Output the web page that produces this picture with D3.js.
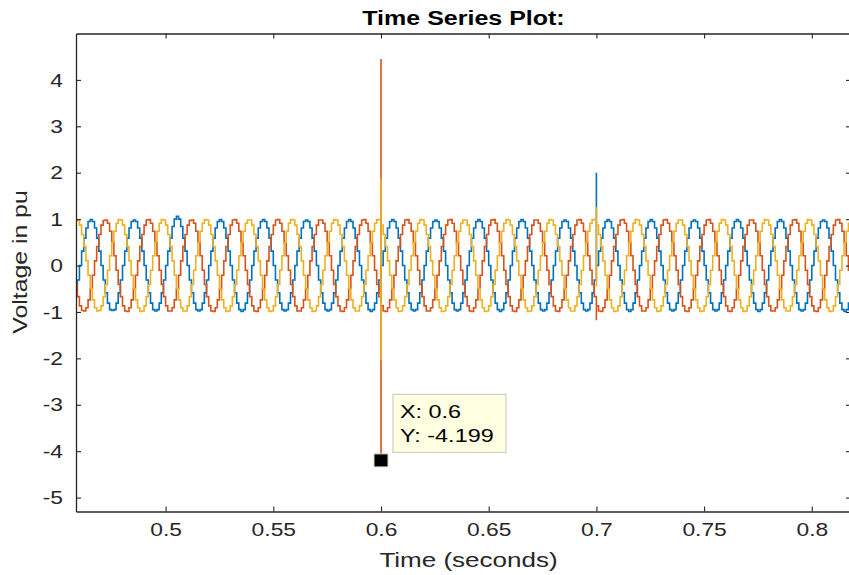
<!DOCTYPE html>
<html>
<head>
<meta charset="utf-8">
<script src="https://cdn.jsdelivr.net/npm/d3@7"></script>
<style>
  body { margin: 0; background: #fff; }
  text { font-family: "Liberation Sans", Arial, sans-serif; fill: #262626; }
</style>
</head>
<body>
<div id="chart"></div>
<script>
// sampling of the logged signals (1 ms steps from 0.458 s)
const sampleStart = 0.458, sampleStep = 0.001;

// phase A (blue), one line per 20 ms cycle
const phaseA = [
  -.59,-.31,0,.31,.59,.81,.95,.99,.95,.81,.59,.31,0,-.31,-.59,-.81,-.95,-.97,-.95,-.81,
  -.59,-.31,0,.31,.59,.81,.95,.98,.95,.81,.59,.31,0,-.31,-.59,-.81,-.95,-.98,-.95,-.81,
  -.59,-.31,0,.31,.59,.84,1.0,1.06,1.0,.84,.59,.31,0,-.31,-.59,-.81,-.95,-.98,-.95,-.81,
  -.59,-.31,0,.31,.59,.81,.95,.99,.95,.81,.59,.31,0,-.31,-.59,-.81,-.95,-.99,-.95,-.81,
  -.59,-.31,0,.31,.59,.81,.95,.99,.95,.81,.59,.31,0,-.31,-.59,-.81,-.95,-.98,-.95,-.81,
  -.59,-.31,0,.31,.59,.81,.95,.98,.95,.81,.59,.31,0,-.31,-.59,-.81,-.95,-.98,-.95,-.81,
  -.59,-.31,0,.31,.59,.81,.95,.99,.95,.81,.59,.31,0,-.31,-.59,-.81,-.95,-.99,-.95,-.81,
  -.59,-.31,0,.31,.59,.81,.95,.99,.95,.81,.59,.31,0,-.31,-.59,-.81,-.95,-.98,-.95,-.81,
  -.59,-.31,0,.31,.59,.81,.95,.98,.95,.81,.59,.31,0,-.31,-.59,-.81,-.95,-.98,-.95,-.81,
  -.59,-.31,0,.31,.59,.81,.95,.99,.95,.81,.59,.31,0,-.31,-.59,-.81,-.95,-.99,-.95,-.81,
  -.59,-.31,0,.31,.59,.81,.95,.99,.95,.81,.59,.31,0,-.31,-.59,-.81,-.95,-.98,-.95,-.81,
  -.59,-.31,0,.31,.59,.81,.95,.98,.95,.81,.59,.31,0,-.31,-.59,-.81,-.95,-.98,-.95,-.81,
  -.59,-.31,0,.31,.59,.81,.95,.99,.95,.81,.59,.31,0,-.31,-.59,-.81,-.95,-.99,-.95,-.81,
  -.59,-.31,0,.31,.59,.81,.95,.99,.95,.81,.59,.31,0,-.31,-.59,-.81,-.95,-.98,-.95,-.81,
  -.59,-.31,0,.31,.59,.81,.95,.98,.95,.81,.59,.31,0,-.31,-.59,-.81,-.95,-.98,-.95,-.81,
  -.59,-.31,0,.31,.59,.81,.95,.99,.95,.81,.59,.31,0,-.31,-.59,-.81,-.95,-.99,-.95,-.81,
  -.59,-.31,0,.31,.59,.81,.95,.99,.95,.81,.59,.31,0,-.31,-.59,-.81,-.95,-.98,-.95,-.81,
  -.59,-.31,0,.31,.59,.81,.95,.98,.95,.81,.59,.31,0,-.31,-.59,-.81,-.95,-.99,-.95,-.81,
  -.59
];

// phase B (red)
const phaseB = [
  -.41,-.67,-.87,-.97,-.98,-.91,-.74,-.5,-.21,.10,.41,.67,.87,.97,.98,.91,.74,.5,.21,-.10,
  -.41,-.67,-.87,-.98,-.99,-.91,-.74,-.5,-.21,.10,.41,.67,.87,.98,.99,.91,.74,.5,.21,-.10,
  -.41,-.67,-.87,-.98,-.98,-.91,-.74,-.5,-.21,.10,.41,.67,.87,.97,.98,.91,.74,.5,.21,-.10,
  -.41,-.67,-.87,-.98,-.99,-.91,-.74,-.5,-.21,.10,.41,.67,.87,.98,.99,.91,.74,.5,.21,-.10,
  -.41,-.67,-.87,-.98,-.99,-.91,-.74,-.5,-.21,.10,.41,.67,.87,.98,.99,.91,.74,.5,.21,-.10,
  -.41,-.67,-.87,-.98,-.98,-.91,-.74,-.5,-.21,.10,.41,.67,.87,.98,.98,.91,.74,.5,.21,-.10,
  -.41,-.67,-.87,-.98,-.99,-.91,-.74,-.5,-.21,.10,.41,.67,.87,.98,.99,.91,.74,.5,.21,-.10,
  -.41,-.67,-.87,-.98,-.99,-.91,-.74,-.5,-.21,.10,.41,.67,.87,.98,.99,.91,.74,.5,.21,-.10,
  -.41,-.67,-.87,-.98,-.98,-.91,-.74,-.5,-.21,.10,.41,.67,.87,.98,.99,.91,.74,.5,.21,-.10,
  -.41,-.67,-.87,-.98,-.99,-.91,-.74,-.5,-.21,.10,.41,.67,.87,.98,.99,.91,.74,.5,.21,-.10,
  -.41,-.67,-.87,-.98,-.99,-.91,-.74,-.5,-.21,.10,.41,.67,.87,.98,.98,.91,.74,.5,.21,-.10,
  -.41,-.67,-.87,-.98,-.99,-.91,-.74,-.5,-.21,.10,.41,.67,.87,.98,.99,.91,.74,.5,.21,-.10,
  -.41,-.67,-.87,-.98,-.99,-.91,-.74,-.5,-.21,.10,.41,.67,.87,.98,.99,.91,.74,.5,.21,-.10,
  -.41,-.67,-.87,-.98,-.98,-.91,-.74,-.5,-.21,.10,.41,.67,.87,.98,.99,.91,.74,.5,.21,-.10,
  -.41,-.67,-.87,-.98,-.99,-.91,-.74,-.5,-.21,.10,.41,.67,.87,.98,.99,.91,.74,.5,.21,-.10,
  -.41,-.67,-.87,-.98,-.99,-.91,-.74,-.5,-.21,.10,.41,.67,.87,.98,.98,.91,.74,.5,.21,-.10,
  -.41,-.67,-.87,-.98,-.98,-.91,-.74,-.5,-.21,.10,.41,.67,.87,.98,.99,.91,.74,.5,.21,-.10,
  -.41,-.67,-.87,-.98,-.99,-.91,-.74,-.5,-.21,.10,.41,.67,.87,.98,.99,.91,.74,.5,.21,-.10,
  -.41
];

// phase C (yellow)
const phaseC = [
  .98,.97,.87,.67,.41,.10,-.21,-.5,-.74,-.91,-.98,-.97,-.87,-.67,-.41,-.10,.21,.5,.74,.91,
  .99,.98,.87,.67,.41,.10,-.21,-.5,-.74,-.91,-.99,-.98,-.87,-.67,-.41,-.10,.21,.5,.74,.91,
  .99,.98,.87,.67,.41,.10,-.21,-.5,-.74,-.91,-.98,-.98,-.87,-.67,-.41,-.10,.21,.5,.74,.91,
  .99,.98,.87,.67,.41,.10,-.21,-.5,-.74,-.91,-.99,-.98,-.87,-.67,-.41,-.10,.21,.5,.74,.91,
  .98,.98,.87,.67,.41,.10,-.21,-.5,-.74,-.91,-.99,-.98,-.87,-.67,-.41,-.10,.21,.5,.74,.91,
  .99,.98,.87,.67,.41,.10,-.21,-.5,-.74,-.91,-.99,-.98,-.87,-.67,-.41,-.10,.21,.5,.74,.91,
  .99,.98,.87,.67,.41,.10,-.21,-.5,-.74,-.91,-.98,-.98,-.87,-.67,-.41,-.10,.21,.5,.74,.91,
  .99,.98,.87,.67,.41,.10,-.21,-.5,-.74,-.91,-.99,-.98,-.87,-.67,-.41,-.10,.21,.5,.74,.91,
  .99,.98,.87,.67,.41,.10,-.21,-.5,-.74,-.91,-.99,-.98,-.87,-.67,-.41,-.10,.21,.5,.74,.91,
  .98,.98,.87,.67,.41,.10,-.21,-.5,-.74,-.91,-.99,-.98,-.87,-.67,-.41,-.10,.21,.5,.74,.91,
  .99,.98,.87,.67,.41,.10,-.21,-.5,-.74,-.91,-.99,-.98,-.87,-.67,-.41,-.10,.21,.5,.74,.91,
  .99,.98,.87,.67,.41,.10,-.21,-.5,-.74,-.91,-.98,-.98,-.87,-.67,-.41,-.10,.21,.5,.74,.91,
  .99,.98,.87,.67,.41,.10,-.21,-.5,-.74,-.91,-.99,-.98,-.87,-.67,-.41,-.10,.21,.5,.74,.91,
  .99,.98,.87,.67,.41,.10,-.21,-.5,-.74,-.91,-.99,-.98,-.87,-.67,-.41,-.10,.21,.5,.74,.91,
  .98,.98,.87,.67,.41,.10,-.21,-.5,-.74,-.91,-.99,-.98,-.87,-.67,-.41,-.10,.21,.5,.74,.91,
  .99,.98,.87,.67,.41,.10,-.21,-.5,-.74,-.91,-.99,-.98,-.87,-.67,-.41,-.10,.21,.5,.74,.91,
  .99,.98,.87,.67,.41,.10,-.21,-.5,-.74,-.91,-.98,-.98,-.87,-.67,-.41,-.10,.21,.5,.74,.91,
  .99,.98,.87,.67,.41,.10,-.21,-.5,-.74,-.91,-.99,-.98,-.87,-.67,-.41,-.10,.21,.5,.74,.91,
  .99
];

// switching transients (extra values logged at the same instant)
const transientTimes = [0.6, 0.7];
const phaseASpikes = [[], [2.0]];
const phaseBSpikes = [[4.45, -4.199], [-1.18]];
const phaseCSpikes = [[1.87, -2.04], [1.26, -0.45]];

// axis ticks
const xTicks = [0.5, 0.55, 0.6, 0.65, 0.7, 0.75, 0.8];
const xTickLabels = ["0.5", "0.55", "0.6", "0.65", "0.7", "0.75", "0.8"];
const yTicks = [-5, -4, -3, -2, -1, 0, 1, 2, 3, 4];
const yTickLabels = ["-5", "-4", "-3", "-2", "-1", "0", "1", "2", "3", "4"];

// data tip
const tipX = 0.6, tipY = -4.199;

// layout
const width = 849, height = 575;
const plotLeft = 76, plotRight = 851, plotTop = 33.5, plotBottom = 511.5;

const colors = ["#0072BD", "#D95319", "#EDB120"];

const x = d3.scaleLinear().domain([0.4584, 0.8182]).range([plotLeft, plotRight]);
const y = d3.scaleLinear().domain([-5.3, 5]).range([plotBottom, plotTop]);

const svg = d3.select("#chart").append("svg")
  .attr("width", width)
  .attr("height", height);

svg.append("defs").append("clipPath").attr("id", "plotclip")
  .append("rect")
  .attr("x", plotLeft).attr("y", plotTop)
  .attr("width", plotRight - plotLeft).attr("height", plotBottom - plotTop);

// build points, inserting the transient values as vertical jumps
function buildSeries(values, spikes) {
  const pts = [];
  values.forEach((v, i) => {
    const t = sampleStart + i * sampleStep;
    pts.push([t, v]);
    transientTimes.forEach((ft, j) => {
      if (Math.abs(t - ft) < sampleStep / 2 && spikes[j].length) {
        spikes[j].forEach(s => pts.push([t, s]));
        pts.push([t, v]);
      }
    });
  });
  return pts;
}

const series = [
  buildSeries(phaseA, phaseASpikes),
  buildSeries(phaseB, phaseBSpikes),
  buildSeries(phaseC, phaseCSpikes)
];

const line = d3.line()
  .x(d => x(d[0]))
  .y(d => y(d[1]))
  .curve(d3.curveStepAfter);

svg.append("g")
  .attr("clip-path", "url(#plotclip)")
  .selectAll("path")
  .data(series)
  .join("path")
  .attr("d", line)
  .attr("fill", "none")
  .attr("stroke", (d, i) => colors[i])
  .attr("stroke-width", 1.6)
  .attr("stroke-linejoin", "miter");

// widen glyphs, the original renders a broad sans
function widen(sel, f) {
  sel.each(function() {
    const w = this.getComputedTextLength();
    d3.select(this)
      .attr("textLength", w * f)
      .attr("lengthAdjust", "spacingAndGlyphs");
  });
}

// axes, MATLAB box style with inward ticks
const xAxis = svg.append("g")
  .attr("transform", `translate(0,${plotBottom})`)
  .call(d3.axisBottom(x).tickValues(xTicks)
    .tickFormat((d, i) => xTickLabels[i])
    .tickSizeInner(-5).tickSizeOuter(0).tickPadding(11));

const xTop = svg.append("g")
  .attr("transform", `translate(0,${plotTop})`)
  .call(d3.axisTop(x).tickValues(xTicks).tickFormat("")
    .tickSizeInner(-5).tickSizeOuter(0));

const yAxis = svg.append("g")
  .attr("transform", `translate(${plotLeft},0)`)
  .call(d3.axisLeft(y).tickValues(yTicks)
    .tickFormat((d, i) => yTickLabels[i])
    .tickSizeInner(-5).tickSizeOuter(0).tickPadding(13));

const yRight = svg.append("g")
  .attr("transform", `translate(${plotRight},0)`)
  .call(d3.axisRight(y).tickValues(yTicks).tickFormat("")
    .tickSizeInner(-5).tickSizeOuter(0));

[xAxis, xTop, yAxis, yRight].forEach(g => {
  g.select(".domain").attr("stroke", "#262626").attr("stroke-width", 1.3);
  g.selectAll(".tick line").attr("stroke", "#262626").attr("stroke-width", 1.1);
  g.selectAll(".tick text")
    .attr("fill", "#262626")
    .style("font-size", "19px")
    .attr("font-family", null);
});
widen(xAxis.selectAll(".tick text"), 1.2);
widen(yAxis.selectAll(".tick text"), 1.2);

// title and labels
svg.append("text")
  .attr("x", (plotLeft + plotRight) / 2)
  .attr("y", 25)
  .attr("text-anchor", "middle")
  .style("font-size", "20px")
  .style("font-weight", "bold")
  .style("fill", "#000")
  .text("Time Series Plot:")
  .call(widen, 1.25);

svg.append("text")
  .attr("x", (plotLeft + plotRight) / 2 + 5)
  .attr("y", 567)
  .attr("text-anchor", "middle")
  .style("font-size", "20px")
  .text("Time (seconds)")
  .call(widen, 1.3);

svg.append("text")
  .attr("transform", `translate(27,262) rotate(-90)`)
  .attr("text-anchor", "middle")
  .style("font-size", "20px")
  .text("Voltage in pu")
  .call(widen, 1.24);

// data tip
const tip = svg.append("g");
tip.append("rect")
  .attr("x", x(tipX) + 12).attr("y", y(tipY) - 66)
  .attr("width", 113).attr("height", 58)
  .attr("fill", "#FFFFE1")
  .attr("stroke", "#CFCFBF")
  .attr("stroke-width", 1.2);
tip.append("text")
  .attr("x", x(tipX) + 19).attr("y", y(tipY) - 42)
  .style("font-size", "18px")
  .style("fill", "#000")
  .text("X: " + tipX)
  .call(widen, 1.3);
tip.append("text")
  .attr("x", x(tipX) + 19).attr("y", y(tipY) - 18)
  .style("font-size", "18px")
  .style("fill", "#000")
  .text("Y: " + tipY)
  .call(widen, 1.3);
tip.append("rect")
  .attr("x", x(tipX) - 7).attr("y", y(tipY) - 6.5)
  .attr("width", 14).attr("height", 13)
  .attr("fill", "#000")
  .attr("stroke", "#D8D8C0")
  .attr("stroke-width", 1);
</script>
</body>
</html>
